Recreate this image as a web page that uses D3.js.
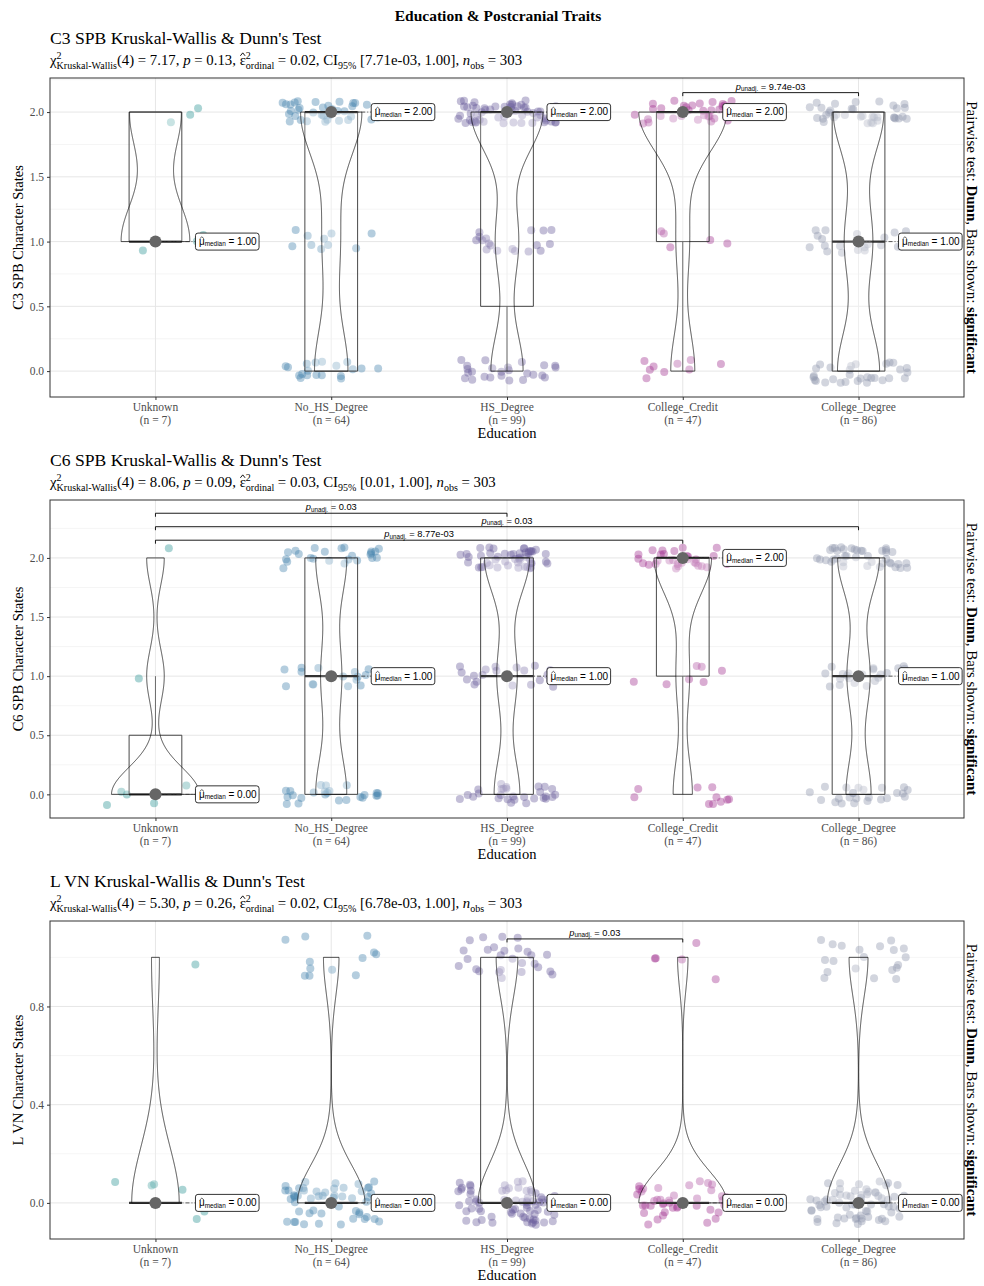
<!DOCTYPE html>
<html>
<head>
<meta charset="utf-8">
<script src="https://cdn.jsdelivr.net/npm/d3@7"></script>
<style>
  body { margin: 0; background: #fff; }
  svg { display: block; }
  text { white-space: pre; }
</style>
</head>
<body>
<svg id="chart" width="984" height="1286"></svg>
<script>
// ---- data ---------------------------------------------------------------
const categories = ["Unknown", "No_HS_Degree", "HS_Degree", "College_Credit", "College_Degree"];
const groupSizes = [7, 64, 99, 47, 86];
const groupColors = ["#2a9494", "#4482ad", "#695d9b", "#a0308f", "#8f96ad"];

// C3 SPB: specimens per character state (0, 1, 2) in each education group
const c3spbStates = [0, 1, 2];
const c3spbCounts = [[0, 4, 3], [19, 10, 35], [25, 18, 56], [9, 5, 33], [30, 20, 36]];
const c3spbStats = ["7.17", "0.13", "0.02", "7.71e-03", "1.00"];
const c3spbPairs = [["College_Credit", "College_Degree", "9.74e-03"]];

// C6 SPB
const c6spbStates = [0, 1, 2];
const c6spbCounts = [[5, 1, 1], [24, 16, 24], [28, 22, 49], [10, 7, 30], [24, 22, 40]];
const c6spbStats = ["8.06", "0.09", "0.03", "0.01", "1.00"];
const c6spbPairs = [["Unknown", "College_Credit", "8.77e-03"],
                    ["Unknown", "College_Degree", "0.03"],
                    ["Unknown", "HS_Degree", "0.03"]];

// L VN
const lvnStates = [0, 1];
const lvnCounts = [[6, 1], [52, 12], [72, 27], [42, 5], [66, 20]];
const lvnStats = ["5.30", "0.26", "0.02", "6.78e-03", "1.00"];
const lvnPairs = [["HS_Degree", "College_Credit", "0.03"]];

const kwDf = 4;
const nObs = 303;

const c3spbTicks = [0, 0.5, 1, 1.5, 2];
const c6spbTicks = [0, 0.5, 1, 1.5, 2];
const lvnTicks = [0, 0.4, 0.8];

// ---- layout -------------------------------------------------------------
const SERIF = "'Liberation Serif', 'Times New Roman', serif";
const SANS = "'Liberation Sans', Arial, 'DejaVu Sans', sans-serif";
const svg = d3.select("#chart");
const plotLeft = 50, plotRight = 964;

const panels = [
  { trait: "C3 SPB", states: c3spbStates, counts: c3spbCounts, stats: c3spbStats, pairs: c3spbPairs,
    ticks: c3spbTicks, minor: [0.25, 0.75, 1.25, 1.75, 2.25], domain: [-0.2, 2.263],
    top: 78, bottom: 397, titleY: 44, subY: 65, seed: 0.11 },
  { trait: "C6 SPB", states: c6spbStates, counts: c6spbCounts, stats: c6spbStats, pairs: c6spbPairs,
    ticks: c6spbTicks, minor: [0.25, 0.75, 1.25, 1.75, 2.25], domain: [-0.2, 2.49],
    top: 500, bottom: 818, titleY: 466, subY: 487, seed: 0.37 },
  { trait: "L VN", states: lvnStates, counts: lvnCounts, stats: lvnStats, pairs: lvnPairs,
    ticks: lvnTicks, minor: [0.2, 0.6, 1.0], domain: [-0.147, 1.148],
    top: 921, bottom: 1239, titleY: 887, subY: 908, seed: 0.73 }
];

const x = d3.scaleLinear().domain([0.4, categories.length + 0.6]).range([plotLeft, plotRight]);

// text made of runs with their own size, shift and style; stacked runs share a start,
// runs flagged with `hat` get a circumflex drawn over them
function rich(parent, px, py, parts, family, fill, anchor) {
  const g = parent.append("g");
  let cursor = 0, lastStart = 0, lastW = 0;
  parts.forEach(p => {
    const start = p.stack ? lastStart : cursor;
    const base = p.shift || 0;
    const t = g.append("text")
      .attr("x", start).attr("y", base)
      .attr("font-family", family).attr("font-size", p.size)
      .attr("fill", fill)
      .attr("font-style", p.italic ? "italic" : null)
      .attr("font-weight", p.bold ? "bold" : null)
      .text(p.text.replace(/ /g, "\u00a0"));
    const w = t.node().getComputedTextLength();
    if (p.hat) {
      const s = p.size;
      g.append("path")
        .attr("d", `M${start + 0.12 * w},${base - 0.62 * s}L${start + 0.5 * w},${base - 0.82 * s}L${start + 0.88 * w},${base - 0.62 * s}`)
        .attr("fill", "none").attr("stroke", fill).attr("stroke-width", Math.max(0.6, s / 16));
    }
    if (p.stack) cursor = start + Math.max(lastW, w);
    else { lastStart = start; lastW = w; cursor = start + w; }
  });
  const dx = anchor === "middle" ? -cursor / 2 : anchor === "end" ? -cursor : 0;
  g.attr("transform", `translate(${px + dx},${py})`);
  return { g, width: cursor };
}

function bwNrd0(v) {
  const hi = d3.deviation(v);
  const iqr = d3.quantile(v, 0.75) - d3.quantile(v, 0.25);
  let lo = Math.min(hi, iqr / 1.34);
  if (!lo) lo = hi || Math.abs(v[0]) || 1;
  return 0.9 * lo * Math.pow(v.length, -0.2);
}

function density(v, bw, n) {
  const lo = d3.min(v), hi = d3.max(v);
  const out = [];
  for (let i = 0; i < n; i++) {
    const t = lo + (hi - lo) * i / (n - 1);
    let s = 0;
    for (const xi of v) { const z = (t - xi) / bw; s += Math.exp(-0.5 * z * z); }
    out.push({ y: t, d: s / (v.length * bw * Math.sqrt(2 * Math.PI)) });
  }
  return out;
}

// overall title
svg.append("text").attr("x", 498).attr("y", 21).attr("text-anchor", "middle")
  .attr("font-family", SERIF).attr("font-size", 15.5).attr("font-weight", "bold")
  .text("Education & Postcranial Traits");

panels.forEach(cfg => {
  const y = d3.scaleLinear().domain(cfg.domain).range([cfg.bottom, cfg.top]);
  const g = svg.append("g");
  const maxState = d3.max(cfg.states);

  // title + statistics subtitle
  g.append("text").attr("x", plotLeft).attr("y", cfg.titleY)
    .attr("font-family", SERIF).attr("font-size", 17.6)
    .text(`${cfg.trait} Kruskal-Wallis & Dunn's Test`);
  const [chi, p, eps, ciLo, ciHi] = cfg.stats;
  const big = 14.8, small = 10;
  rich(g, plotLeft, cfg.subY, [
    { text: "\u03c7", size: big },
    { text: "2", size: small, shift: -6 },
    { text: "Kruskal-Wallis", size: small, shift: 4, stack: true },
    { text: `(${kwDf}) = ${chi}, `, size: big },
    { text: "p", size: big, italic: true },
    { text: ` = ${p}, `, size: big },
    { text: "\u03b5", size: big, hat: true },
    { text: "2", size: small, shift: -6 },
    { text: "ordinal", size: small, shift: 4, stack: true },
    { text: ` = ${eps}, CI`, size: big },
    { text: "95%", size: small, shift: 3.5 },
    { text: ` [${ciLo}, ${ciHi}], `, size: big },
    { text: "n", size: big, italic: true },
    { text: "obs", size: small, shift: 3.5 },
    { text: ` = ${nObs}`, size: big }
  ], SERIF, "#000", "start");

  // panel background and grid
  g.append("rect").attr("x", plotLeft).attr("y", cfg.top)
    .attr("width", plotRight - plotLeft).attr("height", cfg.bottom - cfg.top).attr("fill", "#fff");
  const grid = g.append("g");
  grid.selectAll(".minor").data(cfg.minor.filter(v => y(v) >= cfg.top && y(v) <= cfg.bottom))
    .join("line").attr("x1", plotLeft).attr("x2", plotRight)
    .attr("y1", d => y(d)).attr("y2", d => y(d))
    .attr("stroke", "#f2f2f2").attr("stroke-width", 0.8);
  grid.selectAll(".major").data(cfg.ticks)
    .join("line").attr("x1", plotLeft).attr("x2", plotRight)
    .attr("y1", d => y(d)).attr("y2", d => y(d))
    .attr("stroke", "#e6e6e6").attr("stroke-width", 1);
  grid.selectAll(".vert").data(categories)
    .join("line").attr("y1", cfg.top).attr("y2", cfg.bottom)
    .attr("x1", (d, i) => x(i + 1)).attr("x2", (d, i) => x(i + 1))
    .attr("stroke", "#e6e6e6").attr("stroke-width", 1);

  // individual observations, jittered with a seeded generator
  const rng = d3.randomLcg(cfg.seed);
  const groups = cfg.counts.map((cnt, gi) => {
    const vals = [];
    cnt.forEach((k, si) => { for (let j = 0; j < k; j++) vals.push(cfg.states[si]); });
    return vals;
  });
  const obs = [];
  groups.forEach((vals, gi) => vals.forEach(v =>
    obs.push({ gi, v, jx: (rng() * 2 - 1) * 0.28, jy: (rng() * 2 - 1) * 0.09 })));
  g.append("g").selectAll("circle").data(obs).join("circle")
    .attr("cx", d => x(d.gi + 1 + d.jx)).attr("cy", d => y(d.v + d.jy))
    .attr("r", 4).attr("fill", d => groupColors[d.gi]).attr("fill-opacity", 0.4);

  // boxplots
  const boxG = g.append("g");
  const stats = groups.map(vals => {
    const q1 = d3.quantile(vals, 0.25), med = d3.quantile(vals, 0.5), q3 = d3.quantile(vals, 0.75);
    const iqr = q3 - q1;
    const lw = d3.min(vals.filter(v => v >= q1 - 1.5 * iqr));
    const uw = d3.max(vals.filter(v => v <= q3 + 1.5 * iqr));
    return { q1, med, q3, lw, uw };
  });
  stats.forEach((s, gi) => {
    const c = gi + 1, x0 = x(c - 0.15), x1 = x(c + 0.15);
    if (s.uw > s.q3) boxG.append("line").attr("x1", x(c)).attr("x2", x(c))
      .attr("y1", y(s.q3)).attr("y2", y(s.uw)).attr("stroke", "#333").attr("stroke-width", 0.9);
    if (s.lw < s.q1) boxG.append("line").attr("x1", x(c)).attr("x2", x(c))
      .attr("y1", y(s.q1)).attr("y2", y(s.lw)).attr("stroke", "#333").attr("stroke-width", 0.9);
    boxG.append("path")
      .attr("d", `M${x0},${y(s.q3)}H${x1}V${y(s.q1)}H${x0}Z`)
      .attr("fill", "#fff").attr("fill-opacity", 0.2)
      .attr("stroke", "#333").attr("stroke-width", 0.9);
    boxG.append("line").attr("x1", x0).attr("x2", x1)
      .attr("y1", y(s.med)).attr("y2", y(s.med))
      .attr("stroke", "#333").attr("stroke-width", 2.2);
  });

  // violins, area-scaled against the widest density in the panel
  const dens = groups.map(vals => density(vals, bwNrd0(vals), 512));
  const dMax = d3.max(dens, ds => d3.max(ds, d => d.d));
  const violinG = g.append("g");
  dens.forEach((ds, gi) => {
    const c = gi + 1;
    const area = d3.area()
      .y(d => y(d.y))
      .x0(d => x(c - 0.25 * d.d / dMax))
      .x1(d => x(c + 0.25 * d.d / dMax));
    violinG.append("path").attr("d", area(ds))
      .attr("fill", "#fff").attr("fill-opacity", 0.2)
      .attr("stroke", "#000").attr("stroke-width", 0.7);
  });

  // median markers with labels
  const medG = g.append("g");
  stats.forEach((s, gi) => {
    const cx = x(gi + 1), cy = y(s.med), lx = cx + 40;
    medG.append("line").attr("x1", cx).attr("x2", lx).attr("y1", cy).attr("y2", cy)
      .attr("stroke", "#333").attr("stroke-width", 0.8).attr("stroke-dasharray", "1,2,4,2");
    medG.append("circle").attr("cx", cx).attr("cy", cy).attr("r", 6).attr("fill", "#666");
    const lab = medG.append("g");
    const rect = lab.append("rect");
    const t = rich(lab, lx + 3.5, cy + 3.4, [
      { text: "\u03bc", size: 10, hat: true },
      { text: "median", size: 6.4, shift: 1.5 },
      { text: ` = ${s.med.toFixed(2)}`, size: 10 }
    ], SANS, "#000", "start");
    rect.attr("x", lx).attr("y", cy - 8.5).attr("width", t.width + 6).attr("height", 17)
      .attr("rx", 2.5).attr("fill", "#fff").attr("stroke", "#000").attr("stroke-width", 0.8);
  });

  // significant pairwise comparisons
  const sigG = g.append("g");
  const tip = (cfg.domain[1] - cfg.domain[0]) * 0.011;
  cfg.pairs.forEach(([a, b, pv], k) => {
    const xa = x(categories.indexOf(a) + 1), xb = x(categories.indexOf(b) + 1);
    const yv = maxState * 1.075 + k * maxState * 0.057;
    sigG.append("path")
      .attr("d", `M${xa},${y(yv - tip)}V${y(yv)}H${xb}V${y(yv - tip)}`)
      .attr("fill", "none").attr("stroke", "#000").attr("stroke-width", 0.9);
    rich(sigG, (xa + xb) / 2, y(yv) - 3, [
      { text: "p", size: 9.3, italic: true },
      { text: "unadj.", size: 6.3, shift: 1.5 },
      { text: ` = ${pv}`, size: 9.3 }
    ], SANS, "#000", "middle");
  });

  // panel border
  g.append("rect").attr("x", plotLeft).attr("y", cfg.top)
    .attr("width", plotRight - plotLeft).attr("height", cfg.bottom - cfg.top)
    .attr("fill", "none").attr("stroke", "#333").attr("stroke-width", 1);

  // axes
  const yAxis = g.append("g").attr("transform", `translate(${plotLeft},0)`)
    .call(d3.axisLeft(y).tickValues(cfg.ticks).tickFormat(d3.format(".1f")).tickSize(3).tickPadding(3));
  yAxis.select(".domain").remove();
  yAxis.selectAll("line").attr("stroke", "#333");
  yAxis.selectAll("text").attr("font-family", SERIF).attr("font-size", 11.5).attr("fill", "#4d4d4d");

  const xAxis = g.append("g").attr("transform", `translate(0,${cfg.bottom})`)
    .call(d3.axisBottom(x).tickValues(categories.map((c, i) => i + 1)).tickFormat("").tickSize(3));
  xAxis.select(".domain").remove();
  xAxis.selectAll("line").attr("stroke", "#333");
  categories.forEach((c, i) => {
    const t = g.append("text").attr("x", x(i + 1)).attr("y", cfg.bottom + 14)
      .attr("text-anchor", "middle").attr("font-family", SERIF).attr("font-size", 11.5).attr("fill", "#4d4d4d");
    t.append("tspan").attr("x", x(i + 1)).text(c);
    t.append("tspan").attr("x", x(i + 1)).attr("dy", 12.5).text(`(n = ${groupSizes[i]})`);
  });
  g.append("text").attr("x", (plotLeft + plotRight) / 2).attr("y", cfg.bottom + 41)
    .attr("text-anchor", "middle").attr("font-family", SERIF).attr("font-size", 14.5)
    .text("Education");
  g.append("text")
    .attr("transform", `translate(23,${(cfg.top + cfg.bottom) / 2}) rotate(-90)`)
    .attr("text-anchor", "middle").attr("font-family", SERIF).attr("font-size", 14.5)
    .text(`${cfg.trait} Character States`);

  // caption along the right edge
  const cap = g.append("text")
    .attr("transform", `translate(967,${(cfg.top + cfg.bottom) / 2}) rotate(90)`)
    .attr("text-anchor", "middle").attr("font-family", SERIF).attr("font-size", 15);
  cap.append("tspan").text("Pairwise test: ");
  cap.append("tspan").attr("font-weight", "bold").text("Dunn");
  cap.append("tspan").text(", Bars shown: ");
  cap.append("tspan").attr("font-weight", "bold").text("significant");
});
</script>
</body>
</html>
